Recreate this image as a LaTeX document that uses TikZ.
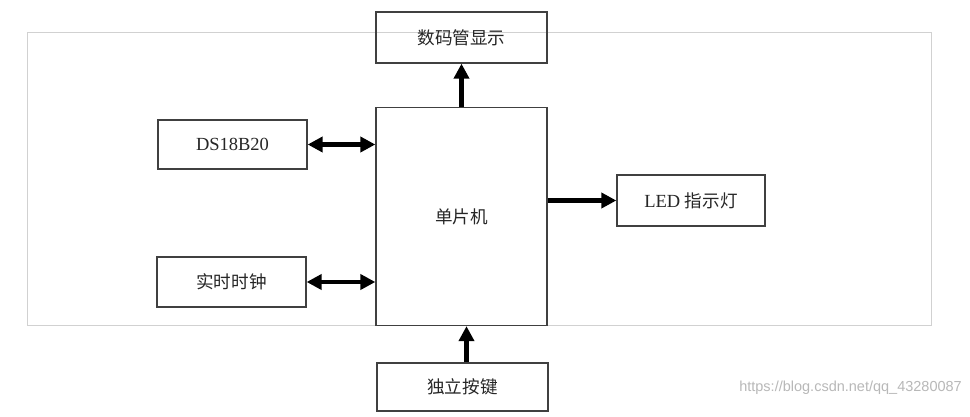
\documentclass[tikz,border=0pt]{standalone}
\usepackage{fontspec}
\setmainfont{Liberation Serif}
\newfontfamily\cjk[Scale=0.95]{Noto Sans CJK SC}
\newfontfamily\wmfont{Liberation Sans}
\usetikzlibrary{arrows.meta}
\begin{document}
\begin{tikzpicture}[x=1pt,y=-1pt,
  blk/.style={draw=black!75,line width=1.3pt,inner sep=0pt,font=\fontsize{18.5}{22}\selectfont,text=black!85},
  conn/.style={line width=4.2pt,draw=black},
  tip/.style={-{Triangle[length=15pt,width=15pt]}},
  dtip/.style={{Triangle[length=15pt,width=15pt]}-{Triangle[length=15pt,width=15pt]}}]
\useasboundingbox (0,0) rectangle (970,416);
\fill[white] (0,0) rectangle (970,416);
% outer light frame
\draw[black!18,line width=1pt] (27,32) rectangle (931,325);
% blocks
\node[blk,minimum width=171pt,minimum height=51pt] (disp) at (461.5,37.5) {\cjk 数码管显示};
\node[blk,minimum width=171pt,minimum height=218pt] (mcu) at (461.5,216.5) {\cjk 单片机};
\node[blk,minimum width=149pt,minimum height=49pt] (ds) at (232.5,144.5) {DS18B20};
\node[blk,minimum width=149pt,minimum height=50pt] (rtc) at (231.5,282) {\cjk 实时时钟};
\node[blk,minimum width=148pt,minimum height=51pt] (led) at (691,200.5) {LED {\cjk 指示灯}};
\node[blk,minimum width=171pt,minimum height=48pt] (key) at (462.5,387) {\cjk 独立按键};
% connectors
\draw[conn,tip] (mcu.north) -- (disp.south);
\draw[conn,dtip] (ds.east) -- (ds.east -| mcu.west);
\draw[conn,dtip] (rtc.east) -- (rtc.east -| mcu.west);
\draw[conn,tip] (mcu.east |- led.west) -- (led.west);
\draw[conn,tip] ([xshift=4pt]key.north) -- ([xshift=4pt]key.north |- mcu.south);
% watermark
\node[text=black!28,font=\wmfont\fontsize{14.5}{16}\selectfont,anchor=east,inner sep=0pt] (wm) at (962,388) {https://blog.csdn.net/qq\_43280087};
\end{tikzpicture}
\end{document}
